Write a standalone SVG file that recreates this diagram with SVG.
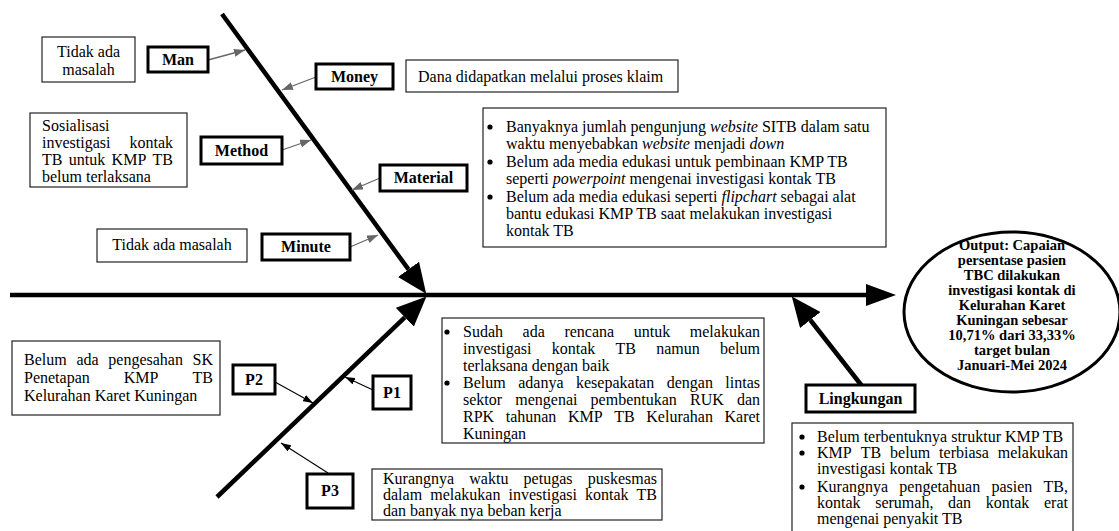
<svg xmlns="http://www.w3.org/2000/svg" width="1119" height="531" viewBox="0 0 1119 531">
<style>
.tb{fill:#fff;stroke:#222;stroke-width:1.2}
.lb{fill:#fff;stroke:#000;stroke-width:3}
text{font-family:"Liberation Serif","Times New Roman",serif;font-size:16px;fill:#000}
.b{font-weight:bold}
.c{text-anchor:middle}
.e{text-anchor:end}
.out{font-weight:bold;font-size:14.5px;text-anchor:middle}
.bone{stroke:#000;stroke-width:4.5;fill:none}
.ga{stroke:#666;stroke-width:1.3;fill:none}
.ka{stroke:#000;stroke-width:1.1;fill:none}
.dot{fill:#000}
</style>
<defs>
<marker id="big" markerUnits="userSpaceOnUse" viewBox="0 0 30 26" refX="0" refY="13" markerWidth="30" markerHeight="26" orient="auto"><path d="M0,0 L30,13 L0,26 z" fill="#000"/></marker>
<marker id="bigH" markerUnits="userSpaceOnUse" viewBox="0 0 30 22" refX="0" refY="11" markerWidth="30" markerHeight="22" orient="auto"><path d="M0,0 L30,11 L0,22 z" fill="#000"/></marker>
<marker id="sg" markerUnits="userSpaceOnUse" viewBox="0 0 11 8" refX="11" refY="4" markerWidth="11" markerHeight="8" orient="auto"><path d="M0,0 L11,4 L0,8 z" fill="#666"/></marker>
<marker id="sk" markerUnits="userSpaceOnUse" viewBox="0 0 10 7" refX="10" refY="3.5" markerWidth="10" markerHeight="7" orient="auto"><path d="M0,0 L10,3.5 L0,7 z" fill="#000"/></marker>
</defs>

<g id="connectors">
<line class="bone" x1="10" y1="295" x2="866" y2="295" marker-end="url(#bigH)"/>
<line class="bone" x1="222" y1="14" x2="408.5" y2="269.4" marker-end="url(#big)"/>
<line class="bone" x1="217" y1="497" x2="404.8" y2="317.3" marker-end="url(#big)"/>
<line class="bone" x1="862" y1="386" x2="810.3" y2="320" marker-end="url(#big)"/>
<line class="ga" x1="208" y1="60" x2="245" y2="50" marker-end="url(#sg)"/>
<line class="ga" x1="316" y1="77" x2="282" y2="90" marker-end="url(#sg)"/>
<line class="ga" x1="282" y1="150" x2="311" y2="140" marker-end="url(#sg)"/>
<line class="ga" x1="380" y1="178" x2="352" y2="190" marker-end="url(#sg)"/>
<line class="ga" x1="350" y1="247" x2="378" y2="235" marker-end="url(#sg)"/>
<line class="ka" x1="275" y1="382" x2="313" y2="403" marker-end="url(#sk)"/>
<line class="ka" x1="373" y1="390" x2="345" y2="377" marker-end="url(#sk)"/>
<line class="ka" x1="328" y1="473" x2="281" y2="443" marker-end="url(#sk)"/>
</g>

<g id="man-text"><rect class="tb" x="42" y="37" width="93" height="45"/>
<text class="c" x="88.5" y="57">Tidak ada</text><text class="c" x="88.5" y="75">masalah</text></g>
<g id="man"><rect class="lb" x="148" y="47" width="60" height="25"/><text class="b c" x="178" y="65">Man</text></g>

<g id="money"><rect class="lb" x="316" y="64" width="77" height="25"/><text class="b c" x="354.5" y="82">Money</text></g>
<g id="money-text"><rect class="tb" x="406" y="60" width="272" height="32"/><text x="418" y="82">Dana didapatkan melalui proses klaim</text></g>

<g id="method-text"><rect class="tb" x="30" y="113" width="157" height="74"/>
<text x="42" y="131">Sosialisasi</text>
<text x="42" y="148">investigasi</text><text class="e" x="173" y="148">kontak</text>
<text x="42" y="165">TB</text><text x="68.8" y="165">untuk</text><text x="111.6" y="165">KMP</text><text class="e" x="173" y="165">TB</text>
<text x="42" y="182">belum terlaksana</text></g>
<g id="method"><rect class="lb" x="201" y="137" width="81" height="27"/><text class="b c" x="241.5" y="156">Method</text></g>

<g id="material"><rect class="lb" x="380" y="165" width="87" height="26"/><text class="b c" x="423.5" y="183">Material</text></g>
<g id="material-text"><rect class="tb" x="483" y="108" width="403" height="139"/>
<circle class="dot" cx="490" cy="127" r="2.6"/><circle class="dot" cx="490" cy="162" r="2.6"/><circle class="dot" cx="490" cy="197" r="2.6"/>
<text x="506" y="132">Banyaknya jumlah pengunjung <tspan font-style="italic">website</tspan> SITB dalam satu</text>
<text x="506" y="149">waktu menyebabkan <tspan font-style="italic">website</tspan> menjadi <tspan font-style="italic">down</tspan></text>
<text x="506" y="167">Belum ada media edukasi untuk pembinaan KMP TB</text>
<text x="506" y="184">seperti <tspan font-style="italic">powerpoint</tspan> mengenai investigasi kontak TB</text>
<text x="506" y="202">Belum ada media edukasi seperti <tspan font-style="italic">flipchart</tspan> sebagai alat</text>
<text x="506" y="219">bantu edukasi KMP TB saat melakukan investigasi</text>
<text x="506" y="236">kontak TB</text></g>

<g id="minute-text"><rect class="tb" x="97" y="229" width="150" height="33"/><text class="c" x="172" y="250">Tidak ada masalah</text></g>
<g id="minute"><rect class="lb" x="262" y="234" width="88" height="26"/><text class="b c" x="306" y="252">Minute</text></g>

<g id="output"><ellipse cx="1012" cy="312" rx="108" ry="80" fill="#fff" stroke="#000" stroke-width="3"/>
<text class="out" x="1012" y="250">Output: Capaian</text>
<text class="out" x="1012" y="265">persentase pasien</text>
<text class="out" x="1012" y="280">TBC dilakukan</text>
<text class="out" x="1012" y="295">investigasi kontak di</text>
<text class="out" x="1012" y="310">Kelurahan Karet</text>
<text class="out" x="1012" y="325">Kuningan sebesar</text>
<text class="out" x="1012" y="340">10,71% dari 33,33%</text>
<text class="out" x="1012" y="355">target bulan</text>
<text class="out" x="1012" y="370">Januari-Mei 2024</text></g>

<g id="p2-text"><rect class="tb" x="12" y="341" width="208" height="74"/>
<text x="24" y="365">Belum</text><text x="76.4" y="365">ada</text><text x="108.3" y="365">pengesahan</text><text class="e" x="213" y="365">SK</text>
<text x="24" y="383">Penetapan</text><text x="123.8" y="383">KMP</text><text class="e" x="213" y="383">TB</text>
<text x="24" y="401">Kelurahan Karet Kuningan</text></g>
<g id="p2"><rect class="lb" x="233" y="365" width="42" height="29"/><text class="b c" x="254" y="385">P2</text></g>
<g id="p1"><rect class="lb" x="373" y="376" width="38" height="33"/><text class="b c" x="392" y="398">P1</text></g>
<g id="p3"><rect class="lb" x="307" y="474" width="46" height="34"/><text class="b c" x="330" y="496">P3</text></g>

<g id="p1-text"><rect class="tb" x="442" y="318" width="322" height="125"/>
<circle class="dot" cx="447" cy="332" r="2.6"/><circle class="dot" cx="447" cy="383" r="2.6"/>
<text x="463" y="337">Sudah</text><text x="522.6" y="337">ada</text><text x="564.4" y="337">rencana</text><text x="633.7" y="337">untuk</text><text class="e" x="760" y="337">melakukan</text>
<text x="463" y="354">investigasi</text><text x="551.7" y="354">kontak</text><text x="615.5" y="354">TB</text><text x="656.2" y="354">namun</text><text class="e" x="760" y="354">belum</text>
<text x="463" y="371">terlaksana dengan baik</text>
<text x="463" y="388">Belum</text><text x="518.2" y="388">adanya</text><text x="576" y="388">kesepakatan</text><text x="666.7" y="388">dengan</text><text class="e" x="760" y="388">lintas</text>
<text x="463" y="405">sektor</text><text x="515.3" y="405">mengenai</text><text x="590.6" y="405">pembentukan</text><text x="690" y="405">RUK</text><text class="e" x="760" y="405">dan</text>
<text x="463" y="422">RPK</text><text x="505.7" y="422">tahunan</text><text x="568" y="422">KMP</text><text x="614.3" y="422">TB</text><text x="646.3" y="422">Kelurahan</text><text class="e" x="760" y="422">Karet</text>
<text x="463" y="439">Kuningan</text></g>

<g id="p3-text"><rect class="tb" x="372" y="469" width="290" height="51"/>
<text x="383" y="484">Kurangnya</text><text x="469.3" y="484">waktu</text><text x="523.6" y="484">petugas</text><text class="e" x="657" y="484">puskesmas</text>
<text x="383" y="500">dalam</text><text x="430.2" y="500">melakukan</text><text x="508.5" y="500">investigasi</text><text x="585" y="500">kontak</text><text class="e" x="657" y="500">TB</text>
<text x="383" y="516">dan banyak nya beban kerja</text></g>

<g id="lingkungan"><rect class="lb" x="806" y="385" width="109" height="27"/><text class="b c" x="860.5" y="404">Lingkungan</text></g>
<g id="lingkungan-text"><rect class="tb" x="792" y="423" width="281" height="120"/>
<circle class="dot" cx="802" cy="437" r="2.6"/><circle class="dot" cx="802" cy="453" r="2.6"/><circle class="dot" cx="802" cy="487" r="2.6"/>
<text x="817" y="442">Belum terbentuknya struktur KMP TB</text>
<text x="817" y="458">KMP</text><text x="860.7" y="458">TB</text><text x="890.1" y="458">belum</text><text x="939.1" y="458">terbiasa</text><text class="e" x="1068" y="458">melakukan</text>
<text x="817" y="474">investigasi kontak TB</text>
<text x="817" y="492">Kurangnya</text><text x="899.3" y="492">pengetahuan</text><text x="991.4" y="492">pasien</text><text class="e" x="1068" y="492">TB,</text>
<text x="817" y="508">kontak</text><text x="875.2" y="508">serumah,</text><text x="948" y="508">dan</text><text x="985.7" y="508">kontak</text><text class="e" x="1068" y="508">erat</text>
<text x="817" y="524">mengenai penyakit TB</text></g>
</svg>
